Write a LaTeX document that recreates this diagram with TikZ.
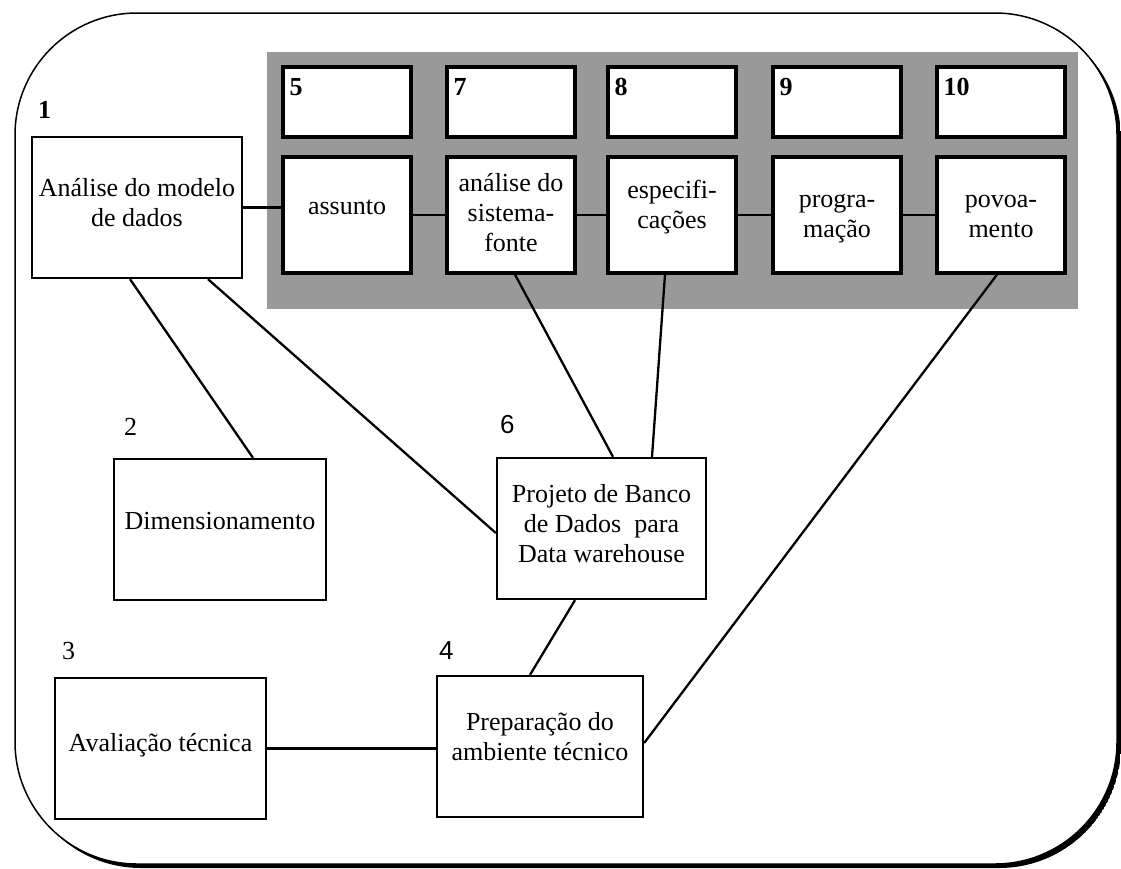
\documentclass[tikz,border=0pt]{standalone}
\usepackage{fontspec}
\setmainfont{Liberation Serif}
\newfontfamily\numsans{Liberation Sans}
\usetikzlibrary{calc}

\begin{document}
\begin{tikzpicture}[x=1pt,y=-1pt,
  every node/.style={font=\fontsize{26}{30}\selectfont},
  box/.style={draw, line width=2.3pt, fill=white, inner sep=0pt, minimum height=141pt},
  stagebox/.style={draw, line width=3.2pt, fill=white, inner sep=0pt, minimum width=128pt},
  tagbox/.style={stagebox, minimum height=70pt},
  workbox/.style={stagebox, minimum height=116pt},
  txt/.style={align=center, inner sep=0pt},
  num/.style={inner sep=0pt, anchor=base west, font=\fontsize{26}{30}\selectfont\bfseries},
  plainnum/.style={inner sep=0pt, anchor=base west},
  sansnum/.style={inner sep=0pt, anchor=base west, font=\fontsize{26}{30}\selectfont\numsans},
  link/.style={line width=2.3pt}]

\useasboundingbox (0,0) rectangle (1121,868);

% outer frame with a drop shadow on the right and bottom
\begin{scope}
  \clip[rounded corners=122pt] (19,17) rectangle (1121,868);
  \fill[even odd rule, rounded corners=122pt] (0,0) rectangle (1121,868) (15,13) rectangle (1117,864);
\end{scope}
\draw[line width=1.5pt, rounded corners=122pt] (15,13) rectangle (1117,864);

% shaded band behind the stage boxes
\fill[black!40] (267,52) rectangle (1078,309);

% main boxes
\node[box, minimum width=210pt] (b1) at (137,207.5) {};
\node[txt] (t1) at ([yshift=4.5pt]b1.center) {Análise do modelo\\de dados};
\node[num] (n1) at (38,118) {1};

\node[box, minimum width=212pt] (b2) at (220,529.5) {};
\node[txt] (t2) at ([yshift=8pt]b2.center) {Dimensionamento};
\node[plainnum] (n2) at (124,435) {2};

\node[box, minimum width=211pt] (b3) at (160.5,748.5) {};
\node[txt] (t3) at ([yshift=3pt]b3.center) {Avaliação técnica};
\node[plainnum] (n3) at (62,659) {3};

\node[box, minimum width=206pt] (b4) at (540,746.5) {};
\node[txt] (t4) at ([yshift=10pt]b4.center) {Preparação do\\ambiente técnico};
\node[sansnum] (n4) at (439,659) {4};

\node[box, minimum width=209pt] (b6) at (601.5,528.5) {};
\node[txt] (t6) at ([yshift=4.5pt]b6.center) {Projeto de Banco\\de Dados~ para\\Data warehouse};
\node[sansnum] (n6) at (500,433) {6};

% stage boxes: number tag above, activity below
\node[tagbox] (g5) at (347,102) {};
\node[num] (n5) at ([xshift=8pt,yshift=-30pt]g5.north west) {5};
\node[workbox] (s5) at (347,215) {};
\node[txt] (t5) at ([yshift=7.5pt]s5.center) {assunto};

\node[tagbox] (g7) at (511,102) {};
\node[num] (n7) at ([xshift=8pt,yshift=-30pt]g7.north west) {7};
\node[workbox] (s7) at (511,215) {};
\node[txt] (t7) at ([yshift=2pt]s7.center) {análise do\\sistema-\\fonte};

\node[tagbox] (g8) at (672,102) {};
\node[num] (n8) at ([xshift=8pt,yshift=-30pt]g8.north west) {8};
\node[workbox] (s8) at (672,215) {};
\node[txt] (t8) at ([yshift=7.5pt]s8.center) {especifi-\\cações};

\node[tagbox] (g9) at (837,102) {};
\node[num] (n9) at ([xshift=8pt,yshift=-30pt]g9.north west) {9};
\node[workbox] (s9) at (837,215) {};
\node[txt] (t9) at ([yshift=-3.5pt]s9.center) {progra-\\mação};

\node[tagbox] (g10) at (1001,102) {};
\node[num] (n10) at ([xshift=8pt,yshift=-30pt]g10.north west) {10};
\node[workbox] (s10) at (1001,215) {};
\node[txt] (t10) at ([yshift=-1pt]s10.center) {povoa-\\mento};

% connectors
\draw[link] (b1.east) -- (b1.east -| s5.west);
\draw[link] (s5.east) -- (s7.west);
\draw[link] (s7.east) -- (s8.west);
\draw[link] (s8.east) -- (s9.west);
\draw[link] (s9.east) -- (s10.west);
\draw[link] ([xshift=-7pt]b1.south) -- ([xshift=33pt]b2.north);
\draw[link] ([xshift=71pt]b1.south) -- ([yshift=-4.5pt]b6.west);
\draw[link] ([xshift=4pt]s7.south) -- ([xshift=11.5pt]b6.north);
\draw[link] ([xshift=-7pt]s8.south) -- ([xshift=50.5pt]b6.north);
\draw[link] ([xshift=-4pt]s10.south) -- ([yshift=3.5pt]b4.east);
\draw[link] ([xshift=-26.5pt]b6.south) -- ([xshift=-10pt]b4.north);
\draw[link] (b3.east) -- (b3.east -| b4.west);
\end{tikzpicture}
\end{document}
